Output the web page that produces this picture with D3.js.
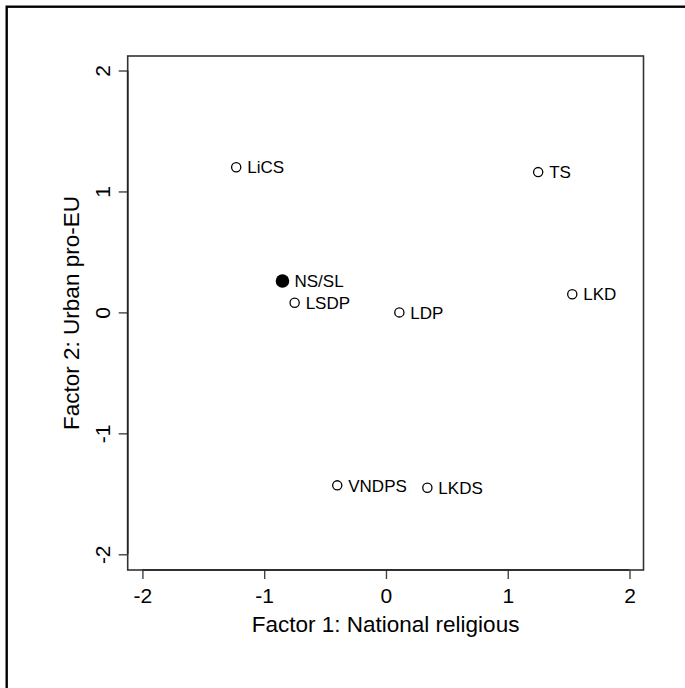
<!DOCTYPE html>
<html><head><meta charset="utf-8">
<script src="https://cdn.jsdelivr.net/npm/d3@7"></script>
<style>body{margin:0;background:#fff}svg{display:block}</style>
</head><body>
<div id="chart"></div>
<script>
const parties = ["LiCS","NS/SL","LSDP","LDP","TS","LKD","VNDPS","LKDS"];
const factor1 = [-1.23,-0.85,-0.75,0.11,1.25,1.53,-0.40,0.34];
const factor2 = [1.20,0.26,0.08,0.00,1.16,0.15,-1.43,-1.45];
const filled  = [false,true,false,false,false,false,false,false];
const xTicks = [-2,-1,0,1,2];
const yTicks = [-2,-1,0,1,2];
const xTitle = "Factor 1: National religious";
const yTitle = "Factor 2: Urban pro-EU";

const W=685,H=688;
const L=127.7,R=643.5,T=56,B=570;
const svg=d3.select("#chart").append("svg").attr("width",W).attr("height",H);
const font="Liberation Sans, Arial, sans-serif";

// outer figure border
svg.append("rect").attr("x",6.7).attr("y",6.7).attr("width",720).attr("height",720)
  .attr("fill","none").attr("stroke","#000").attr("stroke-width",2.4);

const x=d3.scaleLinear().domain([-2.121,2.115]).range([L,R]);
const y=d3.scaleLinear().domain([-2.13,2.12]).range([B,T]);

svg.append("rect").attr("x",L).attr("y",T).attr("width",R-L).attr("height",B-T)
  .attr("fill","none").attr("stroke","#333").attr("stroke-width",1.6);

const fmt=d=>String(d);
const xa=svg.append("g").attr("transform",`translate(0,${B})`)
  .call(d3.axisBottom(x).tickValues(xTicks).tickSize(9).tickSizeOuter(0).tickFormat(fmt));
const ya=svg.append("g").attr("transform",`translate(${L},0)`)
  .call(d3.axisLeft(y).tickValues(yTicks).tickSize(9).tickSizeOuter(0).tickFormat(fmt));
[xa,ya].forEach(g=>{
  g.select(".domain").remove();
  g.selectAll(".tick line").attr("stroke","#444").attr("stroke-width",1.4);
  g.selectAll(".tick text").attr("fill","#000").style("font-family",font).style("font-size","21px");
});
xa.append("line").attr("x1",x(xTicks[0])).attr("x2",x(xTicks[xTicks.length-1]))
  .attr("stroke","#222").attr("stroke-width",1.6);
ya.append("line").attr("y1",y(yTicks[0])).attr("y2",y(yTicks[yTicks.length-1]))
  .attr("stroke","#222").attr("stroke-width",1.6);
xa.selectAll(".tick text").attr("y",null).attr("dy",null).attr("transform","translate(0,33)");
ya.selectAll(".tick text").attr("x",null).attr("dy",null)
  .attr("transform","translate(-17.5,0) rotate(-90)").attr("text-anchor","middle");

svg.append("text").attr("x",(L+R)/2).attr("y",632).attr("text-anchor","middle")
  .style("font-family",font).style("font-size","22.5px").text(xTitle);
svg.append("text").attr("transform",`translate(78.5,${(T+B)/2}) rotate(-90)`).attr("text-anchor","middle")
  .style("font-family",font).style("font-size","22.5px").text(yTitle);

const data=parties.map((p,i)=>({p,x:factor1[i],y:factor2[i],f:filled[i]}));
const g=svg.append("g");
g.selectAll("circle").data(data).join("circle")
  .attr("cx",d=>x(d.x)).attr("cy",d=>y(d.y))
  .attr("r",d=>d.f?6.8:4.6)
  .attr("fill",d=>d.f?"#000":"#fff").attr("stroke","#000").attr("stroke-width",d=>d.f?0:1.3);
g.selectAll("text").data(data).join("text")
  .attr("x",d=>x(d.x)+(d.f?12:11)).attr("y",d=>y(d.y)+6.2)
  .style("font-family",font).style("font-size","17px").text(d=>d.p);
</script>
</body></html>
